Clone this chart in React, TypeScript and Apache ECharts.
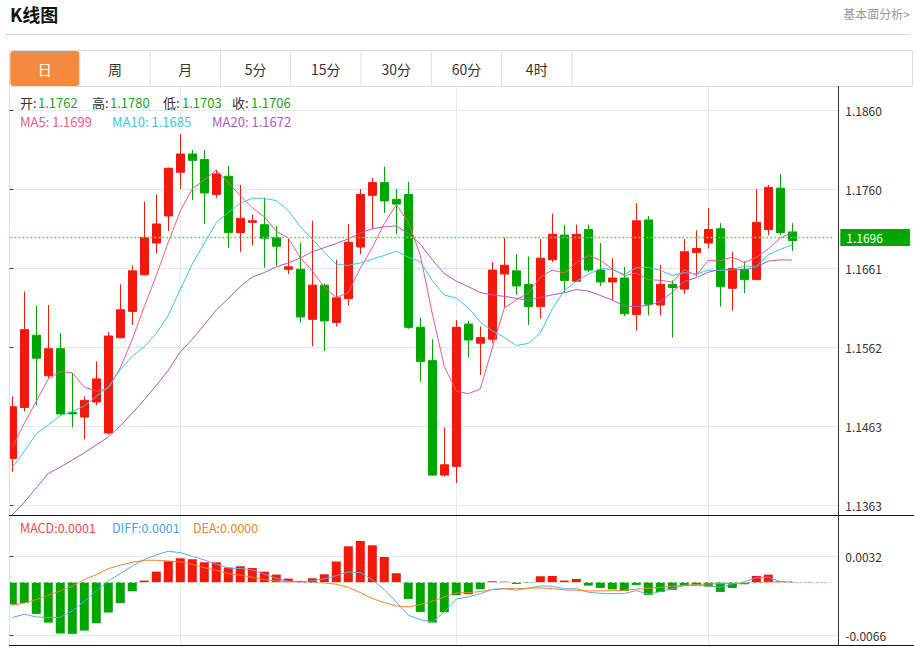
import React, { useEffect, useRef } from "react";
import * as echarts from "echarts";

// ---------- data ----------
const opens = [
  1.1422, 1.1486, 1.1577, 1.1526, 1.156, 1.148, 1.1474, 1.1493, 1.1454, 1.1574,
  1.1607, 1.1653, 1.1693, 1.1727, 1.1782, 1.1805, 1.1798, 1.1754, 1.1777, 1.1706,
  1.1719, 1.1716, 1.17, 1.166, 1.166, 1.1597, 1.164, 1.1593, 1.1623, 1.1688,
  1.1753, 1.1769, 1.1748, 1.1754, 1.1587, 1.1545, 1.1401, 1.1412, 1.1591, 1.1567,
  1.1572, 1.1654, 1.1658, 1.1641, 1.1613, 1.1672, 1.1703, 1.1645, 1.171, 1.1659,
  1.1644, 1.1649, 1.1603, 1.1722, 1.1615, 1.1641, 1.1635, 1.1681, 1.1693, 1.1711,
  1.1636, 1.166, 1.1647, 1.171, 1.1762, 1.1707,
];
const closes = [
  1.1487, 1.1584, 1.1548, 1.156, 1.1478, 1.1478, 1.1495, 1.1522, 1.1576, 1.1609,
  1.1658, 1.17, 1.1717, 1.1787, 1.1805, 1.1797, 1.1756, 1.178, 1.1706, 1.1724,
  1.1721, 1.1699, 1.1689, 1.1663, 1.16, 1.164, 1.1595, 1.1624, 1.1694, 1.1754,
  1.1769, 1.1746, 1.1742, 1.1587, 1.1544, 1.1401, 1.1414, 1.1587, 1.1571, 1.1574,
  1.1659, 1.1665, 1.1639, 1.1613, 1.1674, 1.1704, 1.1646, 1.1704, 1.1659, 1.1644,
  1.1649, 1.1604, 1.1721, 1.1616, 1.1641, 1.1637, 1.1682, 1.1686, 1.171, 1.1638,
  1.1661, 1.1647, 1.1719, 1.1763, 1.1706, 1.1696,
];
const lows = [
  1.1405, 1.1481, 1.1489, 1.1523, 1.1475, 1.1461, 1.1446, 1.1489, 1.1452, 1.1573,
  1.159, 1.1652, 1.168, 1.1708, 1.1761, 1.1747, 1.1717, 1.175, 1.1687, 1.1682,
  1.169, 1.1662, 1.1664, 1.1654, 1.1593, 1.1563, 1.1557, 1.1588, 1.1614, 1.1679,
  1.1711, 1.1731, 1.1704, 1.1585, 1.1519, 1.14, 1.1399, 1.1391, 1.1549, 1.1527,
  1.1567, 1.1612, 1.1628, 1.159, 1.1598, 1.1669, 1.1631, 1.1644, 1.1656, 1.1639,
  1.1621, 1.1601, 1.1583, 1.1602, 1.1602, 1.1574, 1.1629, 1.1651, 1.1686, 1.1613,
  1.1608, 1.163, 1.1646, 1.1703, 1.1703, 1.1683,
];
const highs = [
  1.15, 1.1632, 1.1614, 1.1615, 1.158, 1.1529, 1.15, 1.1544, 1.1581, 1.1641,
  1.1665, 1.1745, 1.1754, 1.1788, 1.183, 1.181, 1.181, 1.1785, 1.179, 1.1766,
  1.1729, 1.175, 1.1714, 1.1699, 1.1693, 1.1721, 1.1642, 1.1672, 1.1717, 1.1761,
  1.1775, 1.1789, 1.1761, 1.177, 1.1599, 1.1572, 1.1461, 1.1596, 1.1595, 1.1588,
  1.1669, 1.17, 1.1679, 1.1676, 1.1698, 1.173, 1.1716, 1.1716, 1.1716, 1.1693,
  1.1674, 1.1663, 1.1743, 1.1727, 1.1665, 1.1646, 1.1698, 1.1709, 1.1737, 1.1718,
  1.1682, 1.167, 1.1761, 1.1766, 1.178, 1.1718,
];
const ma5 = [
  1.1436, 1.1466, 1.1494, 1.1522, 1.15314, 1.15296, 1.15118, 1.15066, 1.15098, 1.1536,
  1.1572, 1.1613, 1.1652, 1.16942, 1.17334, 1.17612, 1.17724, 1.1785, 1.17688, 1.17526,
  1.17374, 1.1726, 1.17078, 1.16992, 1.16744, 1.16582, 1.16374, 1.16244, 1.16306, 1.16614,
  1.16872, 1.17174, 1.1741, 1.17196, 1.16776, 1.1604, 1.15376, 1.15066, 1.15034, 1.15094,
  1.1561, 1.16112, 1.16216, 1.163, 1.165, 1.1659, 1.16552, 1.16682, 1.16774, 1.16714,
  1.16604, 1.1652, 1.16554, 1.16468, 1.16462, 1.16438, 1.16594, 1.16524, 1.16712, 1.16706,
  1.16754, 1.16684, 1.1675, 1.16856, 1.16992, 1.17062,
];
const ma10 = [
  1.1411, 1.1431, 1.1453, 1.1464, 1.1476, 1.1481, 1.1488, 1.15, 1.1512, 1.15337,
  1.15508, 1.15624, 1.15793, 1.1602, 1.16347, 1.16666, 1.16927, 1.17185, 1.17315, 1.1743,
  1.17493, 1.17492, 1.17464, 1.1734, 1.17135, 1.16978, 1.16817, 1.16661, 1.16649, 1.16679,
  1.16727, 1.16774, 1.16827, 1.16751, 1.16695, 1.16456, 1.16275, 1.16238, 1.16115, 1.15935,
  1.15825, 1.15744, 1.15641, 1.15667, 1.15797, 1.161, 1.16332, 1.16449, 1.16537, 1.16607,
  1.16597, 1.16536, 1.16618, 1.16621, 1.16588, 1.16521, 1.16557, 1.16539, 1.1659, 1.16584,
  1.16596, 1.16639, 1.16637, 1.16784, 1.16849, 1.16908,
];
const ma20 = [
  1.1351, 1.1367, 1.1385, 1.1403, 1.1411, 1.142, 1.1429, 1.1439, 1.1449, 1.1463,
  1.1479, 1.1496, 1.1514, 1.1533, 1.1556, 1.1572, 1.159, 1.1609, 1.1623, 1.16384,
  1.16501, 1.16558, 1.16629, 1.1668, 1.16741, 1.16822, 1.16872, 1.16923, 1.16982, 1.17055,
  1.1711, 1.17133, 1.17146, 1.17046, 1.16915, 1.16717, 1.16546, 1.1645, 1.16382, 1.16307,
  1.16276, 1.16259, 1.16234, 1.16209, 1.16246, 1.16278, 1.16304, 1.16344, 1.16326, 1.16271,
  1.16211, 1.1614, 1.1613, 1.16144, 1.16193, 1.16311, 1.16445, 1.16494, 1.16564, 1.16596,
  1.16597, 1.16588, 1.16628, 1.16703, 1.16719, 1.16715,
];
const macd = [
  -0.00279, -0.00259, -0.00396, -0.00505, -0.00642, -0.00646, -0.00605, -0.00513, -0.00379, -0.00259,
  -0.00113, 0.00021, 0.00133, 0.00263, 0.003, 0.00288, 0.0025, 0.0025, 0.00183, 0.002,
  0.00179, 0.00133, 0.00096, 0.00046, 0.00017, 0.0005, 0.001, 0.0026, 0.0045, 0.00517,
  0.00463, 0.00317, 0.00113, -0.00209, -0.00371, -0.00505, -0.00375, -0.00163, -0.0015, -0.00088,
  0.00013, 0.00008, -0.00021, -0.00008, 0.00075, 0.00079, 0.00021, 0.00042, -0.00042, -0.00071,
  -0.00088, -0.00108, -0.00033, -0.00158, -0.00121, -0.00096, -0.00042, -0.00038, -0.00054, -0.00121,
  -0.00071, -0.00025, 0.00079, 0.00096, 0.0001, 0.00004,
];
const diff = [
  -0.00442, -0.004, -0.00434, -0.00442, -0.00438, -0.00359, -0.00238, -0.00108, 0.00017, 0.00108,
  0.00204, 0.00284, 0.00342, 0.00388, 0.00371, 0.00325, 0.00279, 0.00225, 0.00179, 0.00171,
  0.00158, 0.001, 0.0005, 0.00013, 0.00004, 0.00021, 0.00042, 0.00083, 0.00129, 0.00121,
  0.00033, -0.00092, -0.00246, -0.00413, -0.00467, -0.00496, -0.00371, -0.00209, -0.00183, -0.00142,
  -0.00088, -0.00079, -0.001, -0.00075, -0.00046, -0.0005, -0.00083, -0.00079, -0.00125, -0.00138,
  -0.00142, -0.00142, -0.00104, -0.0015, -0.00117, -0.00079, -0.00042, -0.00042, -0.00046, -0.00063,
  -0.00021, 0.00004, 0.00058, 0.00063, 0.00008, 0.0,
];
const dea = [
  -0.00288, -0.00259, -0.00217, -0.00163, -0.00108, -0.0005, 0.00033, 0.00096, 0.00171, 0.00213,
  0.0025, 0.00275, 0.00275, 0.00267, 0.00254, 0.00225, 0.00183, 0.0015, 0.00108, 0.00088,
  0.00063, 0.00033, 0.00017, 0.00008, 0.0, -0.00004, -0.00008, -0.00025, -0.00063, -0.00129,
  -0.00204, -0.00254, -0.00296, -0.00309, -0.00279, -0.00238, -0.00183, -0.00133, -0.00129, -0.00117,
  -0.00092, -0.00083, -0.00079, -0.00075, -0.00071, -0.00079, -0.00096, -0.001, -0.00108, -0.00108,
  -0.00104, -0.001, -0.00088, -0.00075, -0.00063, -0.0005, -0.00038, -0.00029, -0.00021, -0.00017,
  -0.00012, -0.00008, -0.00004, 0.00002, 0.00003, 0.00002,
];
const priceTicks = ["1.1363", "1.1463", "1.1562", "1.1661", "1.1760", "1.1860"];
const priceMin = 1.1363;
const priceMax = 1.186;
const macdTicks = ["-0.0066", "0.0032"];
const macdMin = -0.0066;
const macdMax = 0.0032;
const lastPrice = 1.1696;
const hoverIndex = 64;
const monthStarts = [14, 37, 58];
const tabs = ["日", "周", "月", "5分", "15分", "30分", "60分", "4时"];
const SLOTS = 69;

const FONT = '"Microsoft YaHei", "Noto Sans CJK SC", "Noto Sans", sans-serif';
const RED = "#f2190b";
const GREEN = "#00a600";
const C_MA5 = "#ec5a88";
const C_MA10 = "#3ec6dc";
const C_MA20 = "#b258c8";
const C_DIFF = "#5aa9ee";
const C_DEA = "#f4812c";
const GRIDC = "#e3eaf0";

// pane geometry (pixels)
const P_TOP = 110.3; // y of priceMax tick
const P_H = 395; // priceMax -> priceMin
const PANE1 = [86, 515.5];
const M_TOP = 556.7; // y of macdMax tick
const M_H = 78.3;
const PANE2 = [515.7, 645];

export default function App() {
  const ref = useRef<HTMLDivElement>(null);
  useEffect(() => {
    const chart = echarts.init(ref.current!, null, { renderer: "svg" });
    const cats = Array.from({ length: SLOTS }, (_, i) => String(i + 1));
    const kData = opens.map((o, i) => [o, closes[i], lows[i], highs[i]]);
    const pInt = (priceMax - priceMin) / 5;
    // extend the data scales so the data panes cover the whole framed panes
    const pPerPx = (priceMax - priceMin) / P_H;
    const pDataMax = priceMax + (P_TOP - PANE1[0]) * pPerPx;
    const pDataMin = priceMin - (PANE1[1] - (P_TOP + P_H)) * pPerPx;
    const mPerPx = (macdMax - macdMin) / M_H;
    const mDataMax = macdMax + (M_TOP - PANE2[0]) * mPerPx;
    const mDataMin = macdMin - (PANE2[1] - (M_TOP + M_H)) * mPerPx;

    const txt = (x: number, y: number, text: string, fill: string, size = 13, extra: any = {}) => ({
      type: "text",
      x,
      y,
      z: 120,
      silent: true,
      style: {
        text,
        fill,
        fontSize: size,
        fontFamily: FONT,
        verticalAlign: "middle",
        textVerticalAlign: "middle",
        ...extra,
      },
    });
    const ln = (x1: number, y1: number, x2: number, y2: number, stroke: string, w = 1) => ({
      type: "line",
      z: 110,
      silent: true,
      shape: { x1, y1, x2, y2 },
      style: { stroke, lineWidth: w },
    });

    const tabW = 70.3;
    const tabX0 = 9.5;
    const graphics: any[] = [
      { type: "rect", z: 100, silent: true, shape: { x: 0, y: 86, width: 9, height: 560 }, style: { fill: "#fff" } },
      txt(10, 14, "K线图", "#111", 18, { fontWeight: "bold" }),
      txt(910, 13, "基本面分析>", "#999", 12, { align: "right", textAlign: "right" }),
      ln(5, 34.5, 910, 34.5, "#d4d4d4", 1),
      { type: "rect", z: 105, silent: true, shape: { x: 9.5, y: 50.5, width: 903, height: 36 }, style: { fill: "none", stroke: "#dddddd", lineWidth: 1 } },
      { type: "rect", z: 106, silent: true, shape: { x: 10.3, y: 51, width: 69, height: 35, r: 3 }, style: { fill: "#f28b3d" } },
    ];
    tabs.forEach((t, i) => {
      if (i > 0) graphics.push(ln(tabX0 + tabW * i, 51, tabX0 + tabW * i, 86, "#dddddd"));
      graphics.push(
        txt(tabX0 + tabW * i + tabW / 2, 68.5, t, i === 0 ? "#fff" : "#333", 14, { align: "center", textAlign: "center" })
      );
    });
    graphics.push(ln(tabX0 + tabW * 8, 51, tabX0 + tabW * 8, 86, "#dddddd"));
    // frame
    graphics.push(ln(9.5, 86, 9.5, 645.5, "#dddddd"));
    graphics.push(ln(838.5, 86, 838.5, 646, "#333333"));
    graphics.push(ln(9, 515.5, 914, 515.5, "#111111", 1.2));
    graphics.push(ln(9, 645.5, 914, 645.5, "#111111", 1.2));
    // header values for hovered candle
    const h = hoverIndex;
    const f4 = (v: number) => v.toFixed(4);
    graphics.push(txt(20, 102.5, "开:", "#333"));
    graphics.push(txt(38, 102.5, f4(opens[h]), "#1ba31b"));
    graphics.push(txt(92, 102.5, "高:", "#333"));
    graphics.push(txt(110, 102.5, f4(highs[h]), "#1ba31b"));
    graphics.push(txt(163, 102.5, "低:", "#333"));
    graphics.push(txt(182, 102.5, f4(lows[h]), "#1ba31b"));
    graphics.push(txt(232, 102.5, "收:", "#333"));
    graphics.push(txt(251, 102.5, f4(closes[h]), "#1ba31b"));
    graphics.push(txt(20, 121, "MA5: " + f4(ma5[h]), C_MA5));
    graphics.push(txt(112, 121, "MA10: " + f4(ma10[h]), C_MA10));
    graphics.push(txt(212, 121, "MA20: " + f4(ma20[h]), C_MA20));
    graphics.push(txt(20, 527, "MACD:" + f4(macd[h]), "#f04a46", 12.5));
    graphics.push(txt(112, 527, "DIFF:" + f4(diff[h]), "#4aa2ee", 12.5));
    graphics.push(txt(193, 527, "DEA:" + f4(Math.abs(dea[h]) < 0.00005 ? 0 : dea[h]), "#f4812c", 12.5));

    const lineSeries = (name: string, data: number[], color: string, x: number, y: number) => ({
      name,
      type: "line",
      xAxisIndex: x,
      yAxisIndex: y,
      data,
      symbol: "none",
      lineStyle: { color, width: 1 },
      z: 3,
    });

    const option: any = {
      animation: false,
      backgroundColor: "#fff",
      grid: [
        { left: 6.3, top: PANE1[0], width: 828, height: PANE1[1] - PANE1[0] },
        { left: 9.3, top: P_TOP, width: 829, height: P_H },
        { left: 6.3, top: PANE2[0], width: 828, height: PANE2[1] - PANE2[0] },
        { left: 9.3, top: M_TOP, width: 829, height: M_H },
        { left: 12.3, top: 86, width: 816, height: 559 },
      ],
      xAxis: [
        { type: "category", gridIndex: 0, data: cats, boundaryGap: true, show: false },
        { type: "value", gridIndex: 1, min: 0, max: 1, show: false },
        { type: "category", gridIndex: 2, data: cats, boundaryGap: true, show: false },
        { type: "value", gridIndex: 3, min: 0, max: 1, show: false },
        {
          type: "category",
          gridIndex: 4,
          data: cats,
          boundaryGap: false,
          axisLine: { show: false },
          axisTick: { show: false },
          axisLabel: { show: false },
          splitLine: {
            show: true,
            interval: (idx: number) => monthStarts.includes(idx),
            lineStyle: { color: GRIDC, width: 1 },
          },
        },
      ],
      yAxis: [
        { type: "value", gridIndex: 0, min: pDataMin, max: pDataMax, show: false },
        {
          type: "value",
          gridIndex: 1,
          position: "right",
          min: priceMin,
          max: priceMax,
          interval: pInt,
          axisLine: { show: false },
          axisTick: { show: true, length: 4, lineStyle: { color: "#333" } },
          axisLabel: {
            margin: 7,
            color: "#333",
            fontSize: 12,
            fontFamily: FONT,
            formatter: (v: number) => priceTicks[Math.max(0, Math.min(5, Math.round((v - priceMin) / pInt)))],
          },
          splitLine: { show: true, lineStyle: { color: GRIDC } },
        },
        { type: "value", gridIndex: 2, min: mDataMin, max: mDataMax, show: false },
        {
          type: "value",
          gridIndex: 3,
          position: "right",
          min: macdMin,
          max: macdMax,
          interval: macdMax - macdMin,
          axisLine: { show: false },
          axisTick: { show: true, length: 4, lineStyle: { color: "#333" } },
          axisLabel: {
            margin: 7,
            color: "#333",
            fontSize: 12,
            fontFamily: FONT,
            formatter: (v: number) => (v > (macdMin + macdMax) / 2 ? macdTicks[1] : macdTicks[0]),
          },
          splitLine: { show: true, lineStyle: { color: GRIDC } },
        },
        { type: "value", gridIndex: 4, show: false },
      ],
      series: [
        {
          name: "K",
          type: "candlestick",
          xAxisIndex: 0,
          yAxisIndex: 0,
          data: kData,
          barWidth: 9,
          itemStyle: { color: RED, color0: GREEN, borderColor: RED, borderColor0: GREEN, borderWidth: 1 },
          z: 2,
          markLine: {
            silent: true,
            symbol: ["none", "none"],
            animation: false,
            lineStyle: { color: "#71c871", type: [2, 2], width: 1.4 },
            label: {
              show: true,
              position: "end",
              distance: 6,
              formatter: lastPrice.toFixed(4),
              color: "#fff",
              backgroundColor: "#00a600",
              padding: [3, 27, 2, 6],
              fontSize: 12,
              fontFamily: FONT,
            },
            data: [{ yAxis: lastPrice }],
          },
        },
        lineSeries("MA5", ma5, C_MA5, 0, 0),
        lineSeries("MA10", ma10, C_MA10, 0, 0),
        lineSeries("MA20", ma20, C_MA20, 0, 0),
        {
          name: "MACD",
          type: "bar",
          xAxisIndex: 2,
          yAxisIndex: 2,
          barWidth: 9,
          data: macd.map((v) => ({ value: v, itemStyle: { color: v >= 0 ? RED : GREEN } })),
          markLine: {
            silent: true,
            symbol: ["none", "none"],
            animation: false,
            label: { show: false },
            data: [
              { yAxis: 0, lineStyle: { color: "#cfd6dc", type: [3, 3], width: 1 } },
              [
                { coord: [opens.length - 1, 0], lineStyle: { color: "#9bd6ee", type: [2, 2], width: 1.3 } },
                { coord: [SLOTS - 1, 0] },
              ],
            ],
          },
        },
        lineSeries("DIFF", diff, C_DIFF, 2, 2),
        lineSeries("DEA", dea, C_DEA, 2, 2),
      ],
      graphic: { elements: graphics },
    };
    chart.setOption(option);
    return () => chart.dispose();
  }, []);
  return (
    <div
      ref={ref}
      style={{ position: "fixed", left: 0, top: 0, width: 914, height: 648, background: "#fff" }}
    />
  );
}
